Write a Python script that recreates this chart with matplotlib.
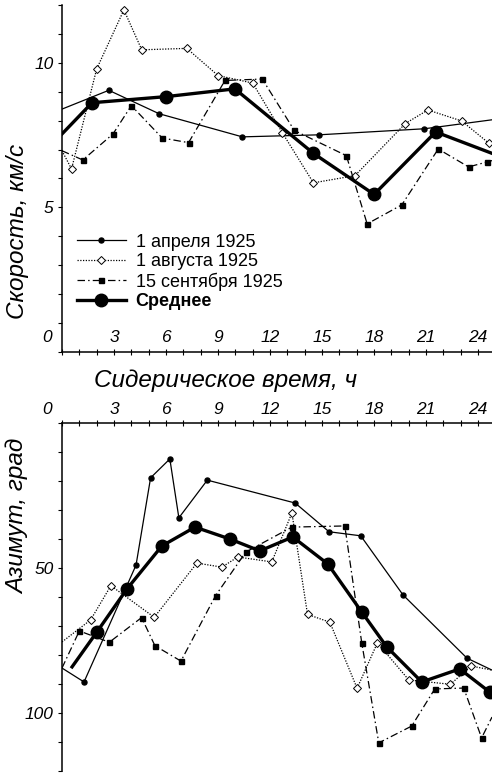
import matplotlib
matplotlib.use('Agg')
import matplotlib.pyplot as plt
from matplotlib.ticker import MultipleLocator

plt.rcParams['font.family'] = ['Liberation Sans', 'DejaVu Sans']

# Скорость, км/с (верхняя панель)
v_apr_h = [0, 2.7, 5.6, 10.4, 14.8, 20.9, 24.8]
v_apr = [8.4, 9.05, 8.24, 7.44, 7.51, 7.72, 8.03]

v_aug_h = [0, 0.55, 2.0, 3.57, 4.6, 7.2, 9.0, 11.0, 12.7, 14.5, 16.9, 19.8, 21.1, 23.05, 24.6, 24.8]
v_aug = [6.96, 6.33, 9.79, 11.83, 10.45, 10.5, 9.56, 9.3, 7.59, 5.85, 6.1, 7.9, 8.37, 7.99, 7.23, 7.13]

v_sep_h = [0, 1.2, 2.94, 4.0, 5.78, 7.3, 9.4, 11.55, 13.4, 16.4, 17.6, 19.6, 21.7, 23.45, 24.5, 24.8]
v_sep = [6.96, 6.64, 7.54, 8.52, 7.4, 7.24, 9.39, 9.44, 7.66, 6.79, 4.43, 5.09, 7.02, 6.4, 6.57, 6.62]

v_avg_h = [0, 1.73, 5.98, 9.97, 14.5, 18.0, 21.55, 24.8]
v_avg = [7.54, 8.62, 8.83, 9.1, 6.87, 5.45, 7.61, 6.87]

# Азимут, град (нижняя панель)
a_apr_h = [0, 1.27, 4.27, 5.11, 6.22, 6.74, 8.38, 13.45, 15.4, 17.23, 19.67, 23.36, 24.8]
a_apr = [84.5, 89.3, 49.0, 18.9, 12.4, 32.7, 19.7, 27.6, 37.5, 38.9, 59.3, 81.1, 85.2]

a_aug_h = [0, 1.65, 2.82, 5.32, 7.78, 9.22, 10.14, 12.1, 13.26, 14.16, 15.45, 17.02, 18.19, 20.0, 22.4, 23.6, 24.8]
a_aug = [75.5, 67.9, 56.1, 67.0, 48.3, 49.7, 46.2, 47.9, 31.0, 66.0, 68.7, 91.5, 75.8, 88.6, 90.1, 83.8, 85.2]

a_sep_h = [0, 1.0, 2.73, 4.59, 5.36, 6.86, 8.86, 10.6, 13.26, 16.31, 17.29, 18.27, 20.17, 21.5, 23.17, 24.2, 24.8]
a_sep = [84.5, 71.7, 75.6, 67.1, 76.8, 82.1, 59.5, 44.5, 35.9, 35.5, 75.9, 110.3, 104.5, 91.7, 91.4, 108.6, 101.4]

a_avg_h = [0.58, 2.02, 3.75, 5.76, 7.67, 9.68, 11.41, 13.31, 15.33, 17.29, 18.73, 20.75, 22.94, 24.67, 24.8]
a_avg = [84.1, 72.0, 57.2, 42.4, 35.9, 40.0, 44.1, 39.3, 48.6, 65.2, 77.2, 89.3, 84.8, 92.8, 93.4]

labels = ['1 апреля 1925', '1 августа 1925', '15 сентября 1925', 'Среднее']
hour_ticks = [0, 3, 6, 9, 12, 15, 18, 21, 24]

st_apr = dict(color='black', lw=0.9, ls='-', marker='o', ms=3.6, mfc='black', mec='black')
st_aug = dict(color='black', lw=0.9, ls=(0, (1, 1.2)), marker='D', ms=4, mfc='white', mec='black', mew=0.7)
st_sep = dict(color='black', lw=0.9, ls=(0, (6, 2.5, 1.2, 2.5)), marker='s', ms=3.6, mfc='black', mec='black')
st_avg = dict(color='black', lw=2.4, ls='-', marker='o', ms=9, mfc='black', mec='black', zorder=5)

fig = plt.figure(figsize=(4.92, 7.73), dpi=100)
ax1 = fig.add_axes([62 / 492, 421 / 773, 430 / 492, 347 / 773])
ax2 = fig.add_axes([62 / 492, 2 / 773, 430 / 492, 348 / 773])

ev = slice(1, -1)
ax1.plot(v_apr_h, v_apr, markevery=ev, label=labels[0], **st_apr)
ax1.plot(v_aug_h, v_aug, markevery=ev, label=labels[1], **st_aug)
ax1.plot(v_sep_h, v_sep, markevery=ev, label=labels[2], **st_sep)
ax1.plot(v_avg_h, v_avg, markevery=ev, label=labels[3], **st_avg)

ax2.plot(a_apr_h, a_apr, markevery=ev, **st_apr)
ax2.plot(a_aug_h, a_aug, markevery=ev, **st_aug)
ax2.plot(a_sep_h, a_sep, markevery=ev, **st_sep)
ax2.plot(a_avg_h, a_avg, markevery=ev, **st_avg)

ax1.set_xlim(0, 24.8)
ax1.set_ylim(0, 12)
ax2.set_xlim(0, 24.8)
ax2.set_ylim(120, 0)

# оси: у скорости снизу, у азимута сверху
ax1.spines[['top', 'right']].set_visible(False)
ax2.spines[['bottom', 'right']].set_visible(False)
for ax in (ax1, ax2):
    for s in ax.spines.values():
        s.set_linewidth(1.1)
    ax.xaxis.set_major_locator(MultipleLocator(1))
    ax.tick_params(axis='x', which='both', direction='inout', length=4.5, width=0.8,
                   labelbottom=False, labeltop=False)
    ax.tick_params(axis='y', which='both', direction='out', length=3, width=0.8,
                   pad=3, labelsize=12.5)
ax2.xaxis.tick_top()
ax2.tick_params(axis='x', labeltop=False)

ax1.yaxis.set_minor_locator(MultipleLocator(1))
ax1.set_yticks([5, 10])
ax2.set_yticks([50, 100])
ax2.yaxis.set_minor_locator(MultipleLocator(10))
for ax in (ax1, ax2):
    for t in ax.get_yticklabels():
        t.set_style('italic')

# подписи часов над осью времени
for h in hour_ticks:
    dx = -15 if h == 0 else 0
    ax1.annotate(str(h), xy=(h, 0), xycoords=('data', 'axes fraction'),
                 xytext=(dx, 10), textcoords='offset pixels', ha='center',
                 va='baseline', fontsize=12.5, style='italic', annotation_clip=False)
    ax2.annotate(str(h), xy=(h, 1), xycoords=('data', 'axes fraction'),
                 xytext=(dx, 9), textcoords='offset pixels', ha='center',
                 va='baseline', fontsize=12.5, style='italic', annotation_clip=False)

leg = ax1.legend(loc='upper left', bbox_to_anchor=(0.035, 0.341), frameon=False,
                 fontsize=13, borderpad=0, borderaxespad=0, handlelength=2.7,
                 handletextpad=0.55, labelspacing=0.13)
leg.get_texts()[3].set_fontweight('bold')

fig.text(18 / 492, 1 - 231 / 773, 'Скорость, км/с', rotation=90, ha='center',
         va='center', fontsize=17.5, style='italic')
fig.text(18 / 492, 1 - 516 / 773, 'Азимут, град', rotation=90, ha='center',
         va='center', fontsize=17.5, style='italic')
fig.text(226 / 492, 1 - 381 / 773, 'Сидерическое время, ч', ha='center',
         va='center', fontsize=17.5, style='italic')

fig.savefig('out.png', dpi=100)
